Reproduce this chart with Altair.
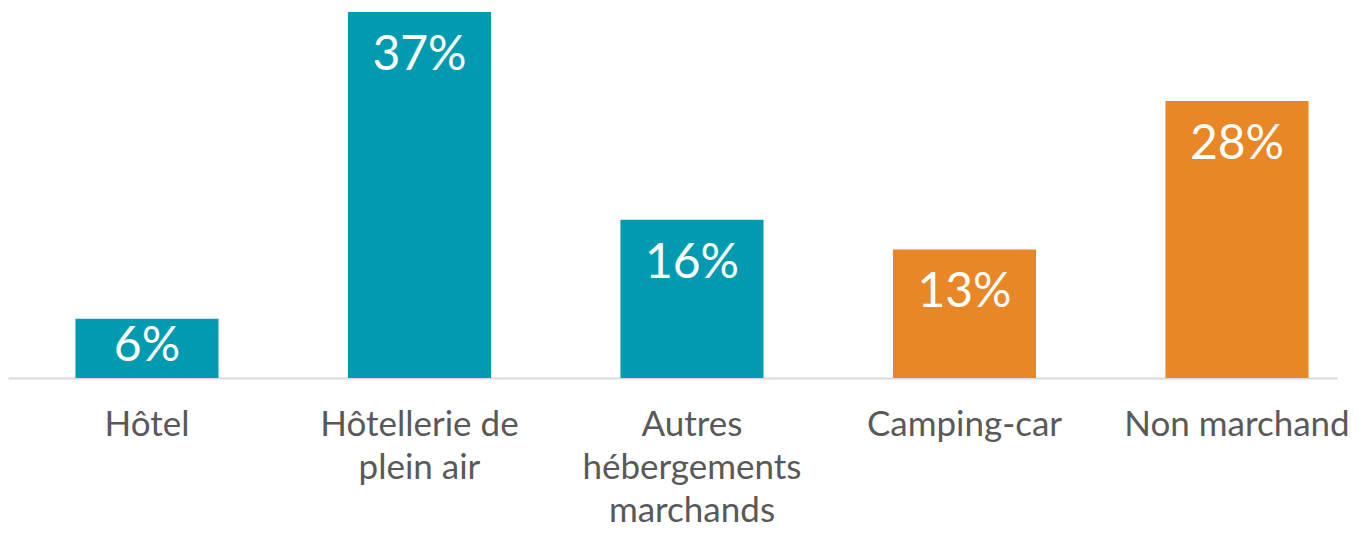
import altair as alt
import pandas as pd

categories = ["Hôtel", "Hôtellerie de plein air", "Autres hébergements marchands", "Camping-car", "Non marchand"]
label_lines = [["Hôtel"], ["Hôtellerie de", "plein air"], ["Autres", "hébergements", "marchands"], ["Camping-car"], ["Non marchand"]]
values = [6, 37, 16, 13, 28]
groups = ["marchand", "marchand", "marchand", "non", "non"]
colors = {"marchand": "#009BB1", "non": "#E98625"}

df = pd.DataFrame({
    "cat": categories,
    "val": values,
    "grp": groups,
    "lbl": [f"{v}%" for v in values],
})

label_map = {c: "|".join(l) for c, l in zip(categories, label_lines)}
label_expr = "split({" + ",".join(f"'{k}':'{v}'" for k, v in label_map.items()) + "}[datum.value], '|')"

x = alt.X("cat:N", sort=categories,
          scale=alt.Scale(paddingInner=0.475, paddingOuter=0.176, align=0.703),
          axis=alt.Axis(title=None, labelAngle=0, ticks=False, domainColor="#D9D9D9",
                        domainWidth=2, labelFont="Lato", labelFontSize=35,
                        labelColor="#595959", labelPadding=29, labelBaseline="top",
                        labelLineHeight=43, labelExpr=label_expr, labelLimit=400))
y = alt.Y("val:Q", scale=alt.Scale(domain=[0, 37.4], nice=False), axis=None)

bars = alt.Chart(df).mark_bar().encode(
    x=x, y=y,
    color=alt.Color("grp:N", scale=alt.Scale(domain=list(colors.keys()), range=list(colors.values())), legend=None),
)
text_big = alt.Chart(df).transform_filter("datum.val >= 10").mark_text(
    font="Lato", fontSize=48, color="white", baseline="top", dy=20
).encode(x=alt.X("cat:N", sort=categories), y=y, text="lbl:N")
text_small = alt.Chart(df).transform_filter("datum.val < 10").mark_text(
    font="Lato", fontSize=48, color="white", baseline="top", dy=4
).encode(x=alt.X("cat:N", sort=categories), y=y, text="lbl:N")

chart = (bars + text_big + text_small).properties(
    width=1329, height=370,
    padding={"left": 0, "top": 0, "right": 14, "bottom": 150},
    autosize=alt.AutoSizeParams(type="none"),
).configure_view(stroke=None)

chart.save("out.html", embed_options={"renderer": "svg", "actions": False})
